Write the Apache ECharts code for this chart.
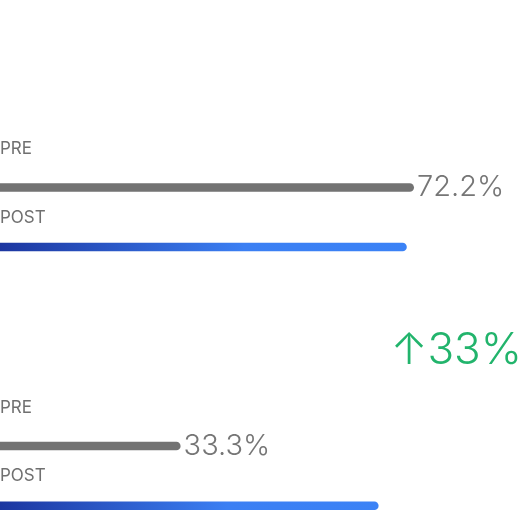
<!DOCTYPE html>
<html>
<head>
<meta charset="utf-8">
<script src="https://cdn.jsdelivr.net/npm/echarts@6/dist/echarts.min.js"></script>
<style>
html,body{margin:0;padding:0;background:#fff;}
#chart{width:525px;height:519px;}
</style>
</head>
<body>
<div id="chart"></div>
<script>
// ---- data ----
const categories = ['PRE', 'POST'];
const group1Values = [72.2, 71.0];
const group2Values = [33.3, 66.3];
const changeLabel = '↑33%';

const FONT = 'Inter, Roboto, "Noto Sans", sans-serif';
const preColor = '#737373';
const postGradient = new echarts.graphic.LinearGradient(0, 0, 1, 0, [
  { offset: 0, color: '#1c36a0' },
  { offset: 0.6, color: '#3b7ff3' },
  { offset: 1, color: '#3b82f6' }
]);

function buildData(values) {
  return values.map((v, i) => ({
    value: v,
    itemStyle: { color: i === 0 ? preColor : postGradient, borderRadius: [0, 4.5, 4.5, 0] },
    label: { show: i === 0 }
  }));
}

// axis starts a little off the left edge (bars are cut by the canvas)
const axisMin = 3.2;
const axisMax = axisMin + 525 / 6;

const grids = [
  { left: 0, right: 0, top: 187.5, height: 59.5, containLabel: false, outerBoundsMode: 'none' },
  { left: 0, right: 0, top: 446, height: 59.7, containLabel: false, outerBoundsMode: 'none' }
];

const xAxes = grids.map((g, i) => ({
  type: 'value', gridIndex: i, min: axisMin, max: axisMax, show: false
}));

const yAxes = grids.map((g, i) => ({
  type: 'category', gridIndex: i, data: categories, inverse: true, boundaryGap: false,
  axisLine: { show: false }, axisTick: { show: false }, splitLine: { show: false },
  axisLabel: {
    inside: true, margin: 0, align: 'left',
    formatter: v => '{' + v.toLowerCase() + '|' + v + '}',
    rich: {
      pre: { fontFamily: FONT, fontSize: 17, color: '#707070', padding: [0, 0, 77, 0] },
      post: { fontFamily: FONT, fontSize: 17, color: '#707070', padding: [0, 0, 59, 0] }
    }
  }
}));

const seriesValues = [group1Values, group2Values];
const series = seriesValues.map((vals, i) => ({
  type: 'bar',
  xAxisIndex: i, yAxisIndex: i,
  barWidth: 8.5,
  data: buildData(vals),
  silent: true,
  label: {
    position: 'right', distance: 3,
    formatter: p => p.value.toFixed(1) + '%',
    fontFamily: FONT, fontSize: 29, fontWeight: 300, color: '#767676'
  }
}));

const chart = echarts.init(document.getElementById('chart'), null, { renderer: 'canvas' });
chart.setOption({
  animation: false,
  backgroundColor: '#ffffff',
  title: {
    text: changeLabel, right: 3, top: 329, padding: 0,
    textStyle: { fontFamily: FONT, fontSize: 44, fontWeight: 300, color: '#22b46c' }
  },
  grid: grids,
  xAxis: xAxes,
  yAxis: yAxes,
  series: series
});
</script>
</body>
</html>
